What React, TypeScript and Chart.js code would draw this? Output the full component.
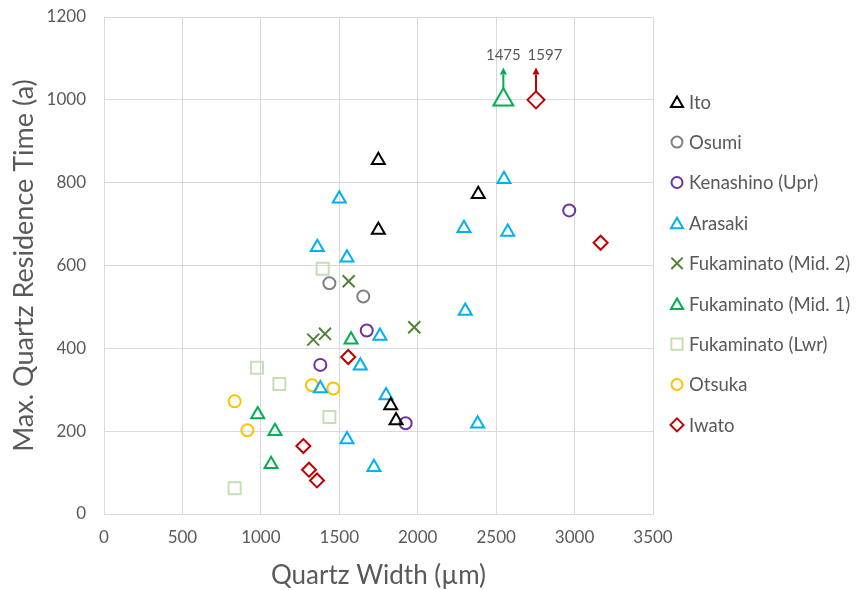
import React, { useEffect, useRef } from 'react';
import { Chart, registerables } from 'chart.js';

Chart.register(...registerables);

const FONT = 'Lato, "Open Sans", sans-serif';
const TEXT = '#595959';
const GRID = '#d9d9d9';

// ---- data ----
const seriesNames = [
  'Ito',
  'Osumi',
  'Kenashino (Upr)',
  'Arasaki',
  'Fukaminato (Mid. 2)',
  'Fukaminato (Mid. 1)',
  'Fukaminato (Lwr)',
  'Otsuka',
  'Iwato',
];

const itoX = [1749, 1749, 2386, 1828, 1862];
const itoY = [854, 686, 772, 262, 226];

const osumiX = [1437, 1653];
const osumiY = [557, 525];

const kenashinoX = [2966, 1675, 1379, 1923];
const kenashinoY = [733, 443, 360, 219];

const arasakiX = [1500, 1360, 1549, 2550, 2295, 2574, 1759, 1634, 1379, 1798, 1549, 1721, 2303, 2382];
const arasakiY = [761, 644, 619, 808, 690, 681, 430, 358, 303, 286, 180, 113, 490, 218];

const mid2X = [1560, 1409, 1334, 1978];
const mid2Y = [562, 435, 421, 451];

const mid1X = [2546, 1575, 980, 1090, 1065];
const mid1Y = [1000, 421, 240, 200, 120];

const lwrX = [1394, 975, 1118, 1437, 833];
const lwrY = [592, 353, 314, 234, 62];

const otsukaX = [1326, 1462, 833, 914];
const otsukaY = [311, 303, 272, 202];

const iwatoX = [2754, 3166, 1557, 1271, 1307, 1358];
const iwatoY = [1000, 655, 379, 164, 107, 81];

// off-scale points (true value shown as label above an arrow)
const offScaleSeries = [5, 8];
const offScaleIndex = [0, 0];
const offScaleLabels = ['1475', '1597'];
const ARROW_TIP_VALUE = 1078;

const xTicks = [0, 500, 1000, 1500, 2000, 2500, 3000, 3500];
const yTicks = [0, 200, 400, 600, 800, 1000, 1200];

// ---- styles ----
const colors = ['#000000', '#808080', '#7030a0', '#00b0f0', '#548235', '#00b050', '#c5e0b4', '#ffc000', '#c00000'];
const styles = ['triangle', 'circle', 'circle', 'triangle', 'crossRot', 'triangle', 'rect', 'circle', 'rectRot'];
const radii = [7.5, 6, 6, 7.5, 8.5, 7.5, 8.5, 6, 7];
const bigRadii = [7.5, 6, 6, 7.5, 8.5, 11.5, 8.5, 6, 8.5];
const legendRadii = [7, 5.5, 5.5, 7, 8, 7, 8, 5.5, 6.5];

const xsList = [itoX, osumiX, kenashinoX, arasakiX, mid2X, mid1X, lwrX, otsukaX, iwatoX];
const ysList = [itoY, osumiY, kenashinoY, arasakiY, mid2Y, mid1Y, lwrY, otsukaY, iwatoY];

function drawMarker(ctx: CanvasRenderingContext2D, style: string, x: number, y: number, r: number) {
  ctx.beginPath();
  if (style === 'circle') {
    ctx.arc(x, y, r, 0, Math.PI * 2);
  } else if (style === 'triangle') {
    const h = 1.5 * r;
    const w = r * Math.sqrt(3);
    ctx.moveTo(x, y - h / 2);
    ctx.lineTo(x + w / 2, y + h / 2);
    ctx.lineTo(x - w / 2, y + h / 2);
    ctx.closePath();
  } else if (style === 'rect') {
    const s = Math.SQRT1_2 * r;
    ctx.rect(x - s, y - s, 2 * s, 2 * s);
  } else if (style === 'rectRot') {
    ctx.moveTo(x - r, y);
    ctx.lineTo(x, y - r);
    ctx.lineTo(x + r, y);
    ctx.lineTo(x, y + r);
    ctx.closePath();
  } else if (style === 'crossRot') {
    const o = Math.SQRT1_2 * r;
    ctx.moveTo(x - o, y - o);
    ctx.lineTo(x + o, y + o);
    ctx.moveTo(x - o, y + o);
    ctx.lineTo(x + o, y - o);
  }
  ctx.stroke();
}

const legendPlugin = {
  id: 'customLegend',
  afterDraw(chart: any) {
    const ctx: CanvasRenderingContext2D = chart.ctx;
    const area = chart.chartArea;
    const startY = 101.7;
    const step = 40.4;
    const markerX = area.right + 24;
    const textX = area.right + 36;
    ctx.save();
    ctx.font = `18.5px ${FONT}`;
    ctx.textBaseline = 'middle';
    ctx.textAlign = 'left';
    seriesNames.forEach((name, i) => {
      const y = startY + i * step;
      ctx.strokeStyle = colors[i];
      ctx.lineWidth = 2;
      drawMarker(ctx, styles[i], markerX, y, legendRadii[i]);
      ctx.fillStyle = TEXT;
      ctx.fillText(name, textX, y + 1);
    });
    ctx.restore();
  },
};

const labelOffsets = [0, 9];

const arrowPlugin = {
  id: 'offScaleArrows',
  afterDatasetsDraw(chart: any) {
    const ctx: CanvasRenderingContext2D = chart.ctx;
    const tipY = chart.scales.y.getPixelForValue(ARROW_TIP_VALUE);
    ctx.save();
    offScaleSeries.forEach((ds, k) => {
      const el = chart.getDatasetMeta(ds).data[offScaleIndex[k]];
      if (!el) return;
      const x = el.x;
      const r = el.options.radius;
      const startY = el.y - r;
      const headH = 7;
      const headW = 3.5;
      ctx.strokeStyle = colors[ds];
      ctx.fillStyle = colors[ds];
      ctx.lineWidth = 2;
      ctx.beginPath();
      ctx.moveTo(x, startY);
      ctx.lineTo(x, tipY + headH);
      ctx.stroke();
      ctx.beginPath();
      ctx.moveTo(x, tipY);
      ctx.lineTo(x + headW, tipY + headH);
      ctx.lineTo(x - headW, tipY + headH);
      ctx.closePath();
      ctx.fill();
      ctx.fillStyle = TEXT;
      ctx.font = `15px ${FONT}`;
      ctx.textAlign = 'center';
      ctx.textBaseline = 'middle';
      ctx.fillText(offScaleLabels[k], x + labelOffsets[k], tipY - 12);
    });
    ctx.restore();
  },
};

export default function App() {
  const canvasRef = useRef<HTMLCanvasElement | null>(null);

  useEffect(() => {
    if (!canvasRef.current) return;
    const datasets = seriesNames.map((name, i) => ({
      label: name,
      data: xsList[i].map((x, j) => ({ x, y: ysList[i][j] })),
      pointStyle: styles[i],
      pointRadius: (c: any) => {
        const k = offScaleSeries.indexOf(i);
        return k >= 0 && offScaleIndex[k] === c.dataIndex ? bigRadii[i] : radii[i];
      },
      pointHoverRadius: radii[i],
      borderColor: colors[i],
      backgroundColor: 'rgba(0,0,0,0)',
      pointBorderWidth: 2,
      showLine: false,
    }));

    const chart = new Chart(canvasRef.current, {
      type: 'scatter',
      data: { datasets },
      plugins: [arrowPlugin, legendPlugin],
      options: {
        animation: false,
        responsive: true,
        maintainAspectRatio: false,
        layout: { padding: { top: 17, right: 204, left: 0, bottom: 0 } },
        plugins: { legend: { display: false }, tooltip: { enabled: false } },
        scales: {
          x: {
            type: 'linear',
            min: 0,
            max: 3500,
            afterFit: (s: any) => {
              s.height = 76;
            },
            afterBuildTicks: (s: any) => {
              s.ticks = xTicks.map((v) => ({ value: v }));
            },
            grid: { color: GRID, lineWidth: 1, drawTicks: false },
            border: { color: GRID, width: 1 },
            ticks: {
              color: TEXT,
              font: { family: FONT, size: 17 },
              padding: 13,
              maxRotation: 0,
              callback: (v: any) => String(v),
            },
            title: {
              display: true,
              text: 'Quartz Width (µm)',
              color: TEXT,
              font: { family: FONT, size: 26, lineHeight: 1.1 },
              padding: { top: 0, bottom: 0 },
            },
          },
          y: {
            type: 'linear',
            min: 0,
            max: 1200,
            afterFit: (s: any) => {
              s.width = 104;
              s.paddingTop = 0;
              s.paddingBottom = 0;
            },
            afterBuildTicks: (s: any) => {
              s.ticks = yTicks.map((v) => ({ value: v }));
            },
            grid: { color: GRID, lineWidth: 1, drawTicks: false },
            border: { color: GRID, width: 1 },
            ticks: {
              color: TEXT,
              font: { family: FONT, size: 17 },
              padding: 18,
              callback: (v: any) => String(v),
            },
            title: {
              display: true,
              text: 'Max. Quartz Residence Time (a)',
              color: TEXT,
              font: { family: FONT, size: 27 },
              padding: { top: 8, bottom: 0 },
            },
          },
        },
      },
    } as any);
    return () => chart.destroy();
  }, []);

  return (
    <div style={{ position: 'absolute', left: 0, top: 0, width: 857, height: 590, background: '#fff' }}>
      <canvas ref={canvasRef} />
    </div>
  );
}
